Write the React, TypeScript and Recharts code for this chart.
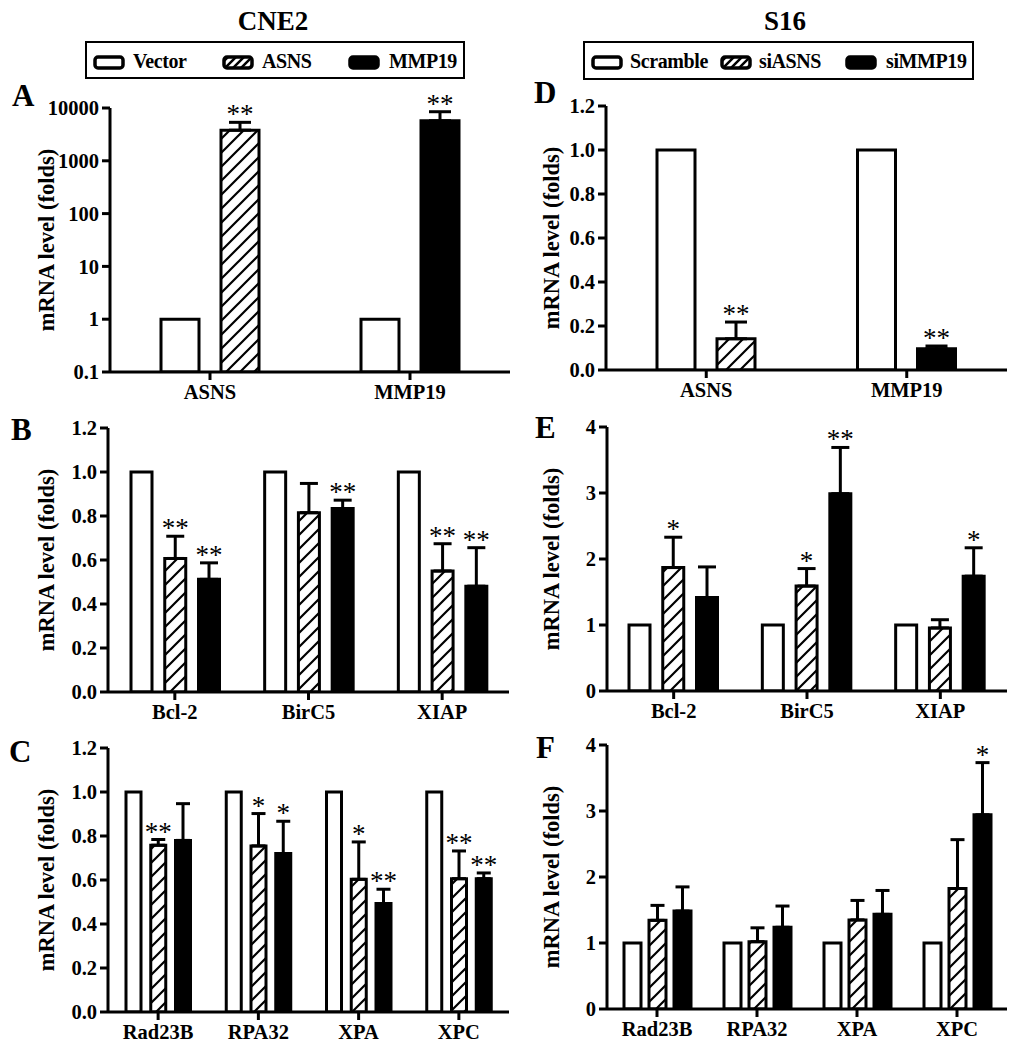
import React from 'react'
import { BarChart, Bar, XAxis, YAxis, ErrorBar, Cell } from 'recharts'

// A: CNE2, overexpression (log scale)
const genesA = ['ASNS', 'MMP19']
const vectorA = [1, 1]
const overA = [3800, 5750]
const overTopA = [5350, 8500]
const overStarA = ['**', '**']

// D: S16, knockdown
const genesD = ['ASNS', 'MMP19']
const scrambleD = [1, 1]
const siD = [0.142, 0.097]
const siTopD = [0.218, 0.109]
const siStarD = ['**', '**']

// B: CNE2 apoptosis genes
const genesB = ['Bcl-2', 'BirC5', 'XIAP']
const vectorB = [1, 1, 1]
const asnsB = [0.607, 0.815, 0.55]
const asnsTopB = [0.708, 0.948, 0.674]
const asnsStarB = ['**', '', '**']
const mmpB = [0.512, 0.834, 0.481]
const mmpTopB = [0.587, 0.872, 0.656]
const mmpStarB = ['**', '**', '**']

// E: S16 apoptosis genes
const genesE = ['Bcl-2', 'BirC5', 'XIAP']
const scrambleE = [1, 1, 1]
const asnsE = [1.87, 1.59, 0.955]
const asnsTopE = [2.33, 1.855, 1.08]
const asnsStarE = ['*', '*', '']
const mmpE = [1.415, 2.99, 1.74]
const mmpTopE = [1.88, 3.69, 2.17]
const mmpStarE = ['', '**', '*']

// C: CNE2 repair genes
const genesC = ['Rad23B', 'RPA32', 'XPA', 'XPC']
const vectorC = [1, 1, 1, 1]
const asnsC = [0.758, 0.755, 0.603, 0.606]
const asnsTopC = [0.784, 0.902, 0.773, 0.732]
const asnsStarC = ['**', '*', '*', '**']
const mmpC = [0.78, 0.72, 0.493, 0.606]
const mmpTopC = [0.947, 0.867, 0.558, 0.632]
const mmpStarC = ['', '*', '**', '**']

// F: S16 repair genes
const genesF = ['Rad23B', 'RPA32', 'XPA', 'XPC']
const scrambleF = [1, 1, 1, 1]
const asnsF = [1.343, 1.02, 1.35, 1.826]
const asnsTopF = [1.57, 1.23, 1.645, 2.566]
const asnsStarF = ['', '', '', '']
const mmpF = [1.484, 1.238, 1.434, 2.943]
const mmpTopF = [1.85, 1.56, 1.796, 3.733]
const mmpStarF = ['', '', '', '*']

const ticks12 = [0, 0.2, 0.4, 0.6, 0.8, 1.0, 1.2]
const ticks4 = [0, 1, 2, 3, 4]
const ticksLog = [0.1, 1, 10, 100, 1000, 10000]

const FONT = '"Liberation Serif", "Times New Roman", serif'
const axisLine = { stroke: '#000', strokeWidth: 3 }
const tickStyle = { fill: '#000', fontSize: 20.5, fontWeight: 700, fontFamily: FONT }

type Series = {
  key: string
  fill: string | string[]
  vals: number[]
  tops?: number[]
  stars?: string[]
}

const starLabel = (s: Series, log: boolean) => (props: any) => {
  const i = props.index
  const star = s.stars?.[i]
  if (!star) return null
  const vb = props.viewBox ?? props
  const x = vb.x ?? props.x
  const y = vb.y ?? props.y
  const w = vb.width ?? props.width
  const h = Math.abs(vb.height ?? props.height)
  const v = s.vals[i]
  const top = s.tops ? s.tops[i] : v
  // pixels per unit taken from the bar the library drew
  const dy = log
    ? (Math.log10(top) - Math.log10(v)) * (h / (Math.log10(v) + 1))
    : (top - v) * (h / v)
  return (
    <text x={x + w / 2} y={y - dy + 1} textAnchor="middle" fontSize={27} fontFamily={FONT} fill="#000">
      {star}
    </text>
  )
}

function hatch(id: string, size: number, sw = 2.2) {
  return (
    <pattern id={id} patternUnits="userSpaceOnUse" width={size} height={size}>
      <rect width={size} height={size} fill="#fff" />
      <path
        d={`M0,${size} L${size},0 M${-size / 2},${size / 2} L${size / 2},${-size / 2} M${size / 2},${size * 1.5} L${size * 1.5},${size / 2}`}
        stroke="#000"
        strokeWidth={sw}
      />
    </pattern>
  )
}

interface PanelProps {
  left: number
  top: number
  width: number
  height: number
  ml: number
  mr: number
  xh: number
  genes: string[]
  series: Series[]
  barSize: number
  barGap: number
  capW: number
  domain: [number, number]
  ticks: number[]
  log?: boolean
  fmt?: (v: number) => string
  hatchId: string
}

function Panel(p: PanelProps) {
  const rows = p.genes.map((g, i) => {
    const r: any = { gene: g }
    p.series.forEach((s) => {
      r[s.key] = s.vals[i]
      if (s.tops) r[s.key + 'Err'] = [0, Math.max(0, s.tops[i] - s.vals[i])]
    })
    return r
  })
  return (
    <div style={{ position: 'absolute', left: p.left, top: p.top }}>
      <BarChart
        width={p.width}
        height={p.height}
        data={rows}
        barSize={p.barSize}
        barGap={p.barGap}
        margin={{ top: 28, right: p.mr, left: p.ml, bottom: 0 }}
      >
        <defs>{hatch(p.hatchId, 14)}</defs>
        <XAxis
          dataKey="gene"
          axisLine={axisLine}
          tickLine={axisLine}
          tickSize={8}
          tickMargin={4}
          height={p.xh}
          tick={tickStyle}
          interval={0}
        />
        <YAxis
          type="number"
          scale={p.log ? 'log' : 'linear'}
          domain={p.domain}
          ticks={p.ticks}
          allowDataOverflow
          width={60}
          axisLine={axisLine}
          tickLine={axisLine}
          tickSize={8}
          tickMargin={3}
          tick={tickStyle}
          tickFormatter={p.fmt}
        />
        {p.series.map((s) => (
          <Bar
            key={s.key}
            dataKey={s.key}
            fill={Array.isArray(s.fill) ? '#000' : s.fill}
            stroke="#000"
            strokeWidth={3}
            isAnimationActive={false}
            label={s.stars ? starLabel(s, !!p.log) : undefined}
          >
            {Array.isArray(s.fill) && s.fill.map((f, i) => <Cell key={i} fill={f} />)}
            {s.tops && (
              <ErrorBar
                dataKey={s.key + 'Err'}
                width={p.capW}
                stroke="#000"
                strokeWidth={3}
                direction="y"
                isAnimationActive={false}
              />
            )}
          </Bar>
        ))}
      </BarChart>
    </div>
  )
}

const fmt1 = (v: number) => v.toFixed(1)
const fmt0 = (v: number) => String(v)

function YLabel({ cx, cy }: { cx: number; cy: number }) {
  return (
    <div
      style={{
        position: 'absolute',
        left: cx - 150,
        top: cy - 13,
        width: 300,
        height: 26,
        lineHeight: '26px',
        textAlign: 'center',
        transform: 'rotate(-90deg)',
        fontFamily: FONT,
        fontWeight: 700,
        fontSize: 22.5,
        whiteSpace: 'nowrap',
      }}
    >
      mRNA level (folds)
    </div>
  )
}

function Letter({ ch, x, y }: { ch: string; x: number; y: number }) {
  return (
    <div style={{ position: 'absolute', left: x, top: y, fontFamily: FONT, fontWeight: 700, fontSize: 31, lineHeight: 1 }}>
      {ch}
    </div>
  )
}

function Icon({ kind, id }: { kind: 'open' | 'hatch' | 'solid'; id: string }) {
  const fill = kind === 'open' ? '#fff' : kind === 'solid' ? '#000' : `url(#${id})`
  return (
    <svg width={32} height={15} style={{ display: 'block' }}>
      <defs>{hatch(id, 8, 2.5)}</defs>
      <rect x={2} y={2} width={28} height={11} rx={3} fill={fill} stroke="#000" strokeWidth={3.5} />
    </svg>
  )
}

function LegendBox(p: {
  left: number
  top: number
  width: number
  height: number
  items: { label: string; kind: 'open' | 'hatch' | 'solid'; icon: number; text: number }[]
  id: string
}) {
  return (
    <div
      style={{
        position: 'absolute',
        left: p.left,
        top: p.top,
        width: p.width,
        height: p.height,
        border: '2px solid #000',
        boxSizing: 'border-box',
      }}
    >
      {p.items.map((it) => (
        <React.Fragment key={it.label}>
          <div style={{ position: 'absolute', left: it.icon - p.left - 2, top: 12 }}>
            <Icon kind={it.kind} id={p.id} />
          </div>
          <div
            style={{
              position: 'absolute',
              left: it.text - p.left - 2,
              top: 8,
              fontFamily: FONT,
              fontWeight: 700,
              fontSize: 20,
              letterSpacing: -0.4,
              lineHeight: 1,
              whiteSpace: 'nowrap',
            }}
          >
            {it.label}
          </div>
        </React.Fragment>
      ))}
    </div>
  )
}

function Title({ text, cx }: { text: string; cx: number }) {
  return (
    <div
      style={{
        position: 'absolute',
        left: cx - 100,
        top: 8,
        width: 200,
        textAlign: 'center',
        fontFamily: FONT,
        fontWeight: 700,
        fontSize: 27,
        lineHeight: 1,
      }}
    >
      {text}
    </div>
  )
}

export default function App() {
  return (
    <div style={{ position: 'absolute', left: 0, top: 0, width: 1018, height: 1050, background: '#fff', overflow: 'hidden' }}>
      <Title text="CNE2" cx={273} />
      <Title text="S16" cx={785} />
      <LegendBox
        left={85}
        top={41}
        width={380}
        height={38}
        id="lgA"
        items={[
          { label: 'Vector', kind: 'open', icon: 93, text: 133 },
          { label: 'ASNS', kind: 'hatch', icon: 222, text: 262 },
          { label: 'MMP19', kind: 'solid', icon: 348, text: 389 },
        ]}
      />
      <LegendBox
        left={583}
        top={41}
        width={391}
        height={39}
        id="lgD"
        items={[
          { label: 'Scramble', kind: 'open', icon: 591, text: 630 },
          { label: 'siASNS', kind: 'hatch', icon: 720, text: 759 },
          { label: 'siMMP19', kind: 'solid', icon: 845, text: 886 },
        ]}
      />

      <Letter ch="A" x={12} y={80} />
      <Letter ch="B" x={11} y={414} />
      <Letter ch="C" x={9} y={736} />
      <Letter ch="D" x={534} y={77} />
      <Letter ch="E" x={535} y={412} />
      <Letter ch="F" x={536} y={732} />

      <YLabel cx={47} cy={240} />
      <YLabel cx={47} cy={560} />
      <YLabel cx={47} cy={880} />
      <YLabel cx={552} cy={238} />
      <YLabel cx={552} cy={559} />
      <YLabel cx={552} cy={877} />

      <Panel
        left={0}
        top={80}
        width={520}
        height={340}
        ml={50}
        mr={10}
        xh={48}
        genes={genesA}
        series={[
          { key: 'vector', fill: '#fff', vals: vectorA },
          { key: 'over', fill: ['url(#hatchA)', '#000'], vals: overA, tops: overTopA, stars: overStarA },
        ]}
        barSize={38}
        barGap={22}
        capW={11}
        domain={[0.1, 10000]}
        ticks={ticksLog}
        log
        fmt={fmt0}
        hatchId="hatchA"
      />
      <Panel
        left={500}
        top={78}
        width={515}
        height={340}
        ml={46}
        mr={8}
        xh={48}
        genes={genesD}
        series={[
          { key: 'scramble', fill: '#fff', vals: scrambleD },
          { key: 'si', fill: ['url(#hatchD)', '#000'], vals: siD, tops: siTopD, stars: siStarD },
        ]}
        barSize={38}
        barGap={22}
        capW={11}
        domain={[0, 1.2]}
        ticks={ticks12}
        fmt={fmt1}
        hatchId="hatchD"
      />
      <Panel
        left={0}
        top={400}
        width={520}
        height={340}
        ml={48}
        mr={11}
        xh={48}
        genes={genesB}
        series={[
          { key: 'vector', fill: '#fff', vals: vectorB },
          { key: 'asns', fill: 'url(#hatchB)', vals: asnsB, tops: asnsTopB, stars: asnsStarB },
          { key: 'mmp', fill: '#000', vals: mmpB, tops: mmpTopB, stars: mmpStarB },
        ]}
        barSize={21}
        barGap={12.75}
        capW={9}
        domain={[0, 1.2]}
        ticks={ticks12}
        fmt={fmt1}
        hatchId="hatchB"
      />
      <Panel
        left={500}
        top={399}
        width={515}
        height={340}
        ml={47}
        mr={8}
        xh={48}
        genes={genesE}
        series={[
          { key: 'scramble', fill: '#fff', vals: scrambleE },
          { key: 'asns', fill: 'url(#hatchE)', vals: asnsE, tops: asnsTopE, stars: asnsStarE },
          { key: 'mmp', fill: '#000', vals: mmpE, tops: mmpTopE, stars: mmpStarE },
        ]}
        barSize={21}
        barGap={12.75}
        capW={9}
        domain={[0, 4]}
        ticks={ticks4}
        fmt={fmt0}
        hatchId="hatchE"
      />
      <Panel
        left={0}
        top={720}
        width={520}
        height={330}
        ml={48}
        mr={11}
        xh={38}
        genes={genesC}
        series={[
          { key: 'vector', fill: '#fff', vals: vectorC },
          { key: 'asns', fill: 'url(#hatchC)', vals: asnsC, tops: asnsTopC, stars: asnsStarC },
          { key: 'mmp', fill: '#000', vals: mmpC, tops: mmpTopC, stars: mmpStarC },
        ]}
        barSize={15}
        barGap={9.75}
        capW={7}
        domain={[0, 1.2]}
        ticks={ticks12}
        fmt={fmt1}
        hatchId="hatchC"
      />
      <Panel
        left={500}
        top={717}
        width={515}
        height={330}
        ml={47}
        mr={8}
        xh={38}
        genes={genesF}
        series={[
          { key: 'scramble', fill: '#fff', vals: scrambleF },
          { key: 'asns', fill: 'url(#hatchF)', vals: asnsF, tops: asnsTopF, stars: asnsStarF },
          { key: 'mmp', fill: '#000', vals: mmpF, tops: mmpTopF, stars: mmpStarF },
        ]}
        barSize={17}
        barGap={8}
        capW={7}
        domain={[0, 4]}
        ticks={ticks4}
        fmt={fmt0}
        hatchId="hatchF"
      />
    </div>
  )
}
